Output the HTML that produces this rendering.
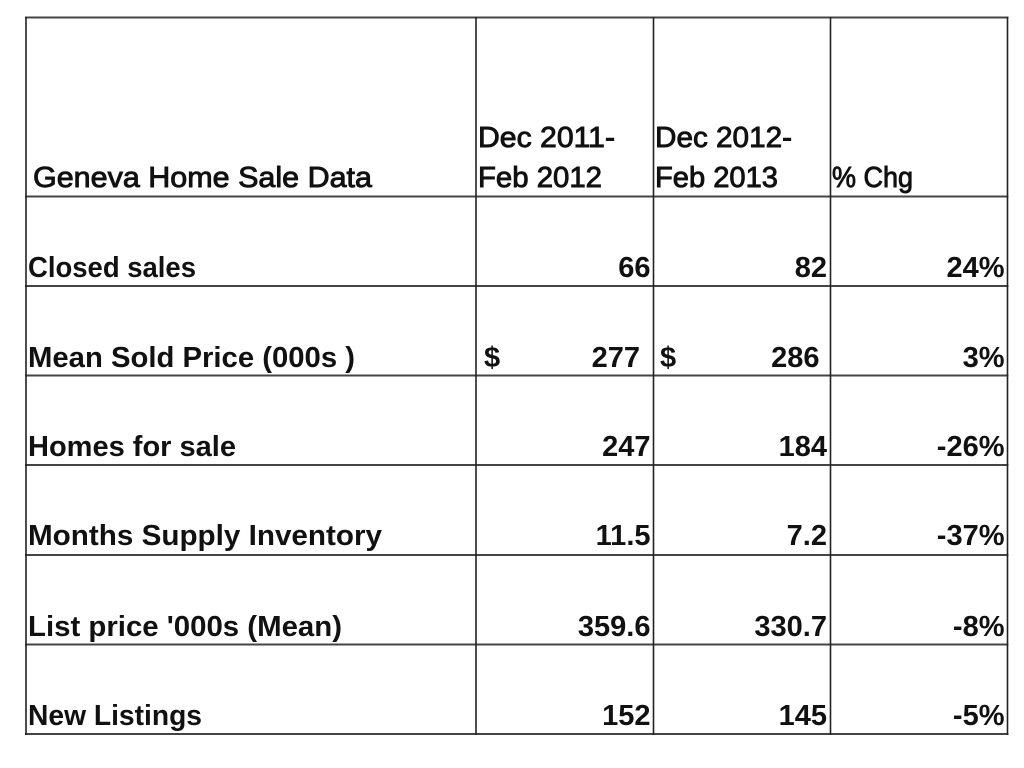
<!DOCTYPE html>
<html>
<head>
<meta charset="utf-8">
<style>
  html, body { margin:0; padding:0; background:#fff; }
  svg { display:block; }
  text { font-family: "Liberation Sans", Arial, sans-serif; fill:#111; }
  .b { font-weight:bold; font-size:29px; }
  .h { font-weight:normal; font-size:29px; stroke:#111; stroke-width:0.9px; }
</style>
</head>
<body>
<svg width="1024" height="768" viewBox="0 0 1024 768" xmlns="http://www.w3.org/2000/svg">
  <rect x="0" y="0" width="1024" height="768" fill="#fff"/>
  <!-- horizontal lines -->
  <g stroke="#444" stroke-width="2">
    <line x1="25" y1="17.5" x2="1008.5" y2="17.5"/>
    <line x1="25" y1="196.5" x2="1008.5" y2="196.5"/>
    <line x1="25" y1="286" x2="1008.5" y2="286"/>
    <line x1="25" y1="375.5" x2="1008.5" y2="375.5"/>
    <line x1="25" y1="465" x2="1008.5" y2="465"/>
    <line x1="25" y1="555" x2="1008.5" y2="555"/>
    <line x1="25" y1="644.5" x2="1008.5" y2="644.5"/>
    <line x1="25" y1="734" x2="1008.5" y2="734"/>
  </g>
  <!-- vertical lines -->
  <g stroke="#222" stroke-width="1.6">
    <line x1="26" y1="17" x2="26" y2="735"/>
    <line x1="476" y1="17" x2="476" y2="735"/>
    <line x1="653.5" y1="17" x2="653.5" y2="735"/>
    <line x1="830.5" y1="17" x2="830.5" y2="735"/>
    <line x1="1007.5" y1="17" x2="1007.5" y2="735"/>
  </g>

  <!-- header -->
  <text class="h" x="33" y="187" textLength="339" lengthAdjust="spacingAndGlyphs">Geneva Home Sale Data</text>
  <text class="h" x="478" y="147" textLength="137" lengthAdjust="spacingAndGlyphs">Dec 2011-</text>
  <text class="h" x="478" y="187" textLength="124" lengthAdjust="spacingAndGlyphs">Feb 2012</text>
  <text class="h" x="655" y="147" textLength="137" lengthAdjust="spacingAndGlyphs">Dec 2012-</text>
  <text class="h" x="655" y="187" textLength="123" lengthAdjust="spacingAndGlyphs">Feb 2013</text>
  <text class="h" x="832" y="187" textLength="81" lengthAdjust="spacingAndGlyphs">% Chg</text>

  <!-- row labels -->
  <text class="b" x="28" y="277" textLength="168" lengthAdjust="spacingAndGlyphs">Closed sales</text>
  <text class="b" x="28" y="367" textLength="327" lengthAdjust="spacingAndGlyphs">Mean Sold Price (000s )</text>
  <text class="b" x="28" y="456" textLength="208" lengthAdjust="spacingAndGlyphs">Homes for sale</text>
  <text class="b" x="28" y="545" textLength="354" lengthAdjust="spacingAndGlyphs">Months Supply Inventory</text>
  <text class="b" x="28" y="636" textLength="314" lengthAdjust="spacingAndGlyphs">List price '000s (Mean)</text>
  <text class="b" x="28" y="725" textLength="174" lengthAdjust="spacingAndGlyphs">New Listings</text>

  <!-- col 1 -->
  <g text-anchor="end">
    <text class="b" x="650.5" y="277">66</text>
    <text class="b" x="640" y="367">277</text>
    <text class="b" x="650.5" y="456">247</text>
    <text class="b" x="650.5" y="545">11.5</text>
    <text class="b" x="650.5" y="636">359.6</text>
    <text class="b" x="650.5" y="725">152</text>
  </g>
  <text class="b" x="484" y="367">$</text>
  <text class="b" x="660" y="367">$</text>

  <!-- col 2 -->
  <g text-anchor="end">
    <text class="b" x="827" y="277">82</text>
    <text class="b" x="819.5" y="367">286</text>
    <text class="b" x="827" y="456">184</text>
    <text class="b" x="827" y="545">7.2</text>
    <text class="b" x="827" y="636">330.7</text>
    <text class="b" x="827" y="725">145</text>
  </g>

  <!-- col 3 -->
  <g text-anchor="end">
    <text class="b" x="1004.5" y="277">24%</text>
    <text class="b" x="1004.5" y="367">3%</text>
    <text class="b" x="1004.5" y="456">-26%</text>
    <text class="b" x="1004.5" y="545">-37%</text>
    <text class="b" x="1004.5" y="636">-8%</text>
    <text class="b" x="1004.5" y="725">-5%</text>
  </g>
</svg>
</body>
</html>
